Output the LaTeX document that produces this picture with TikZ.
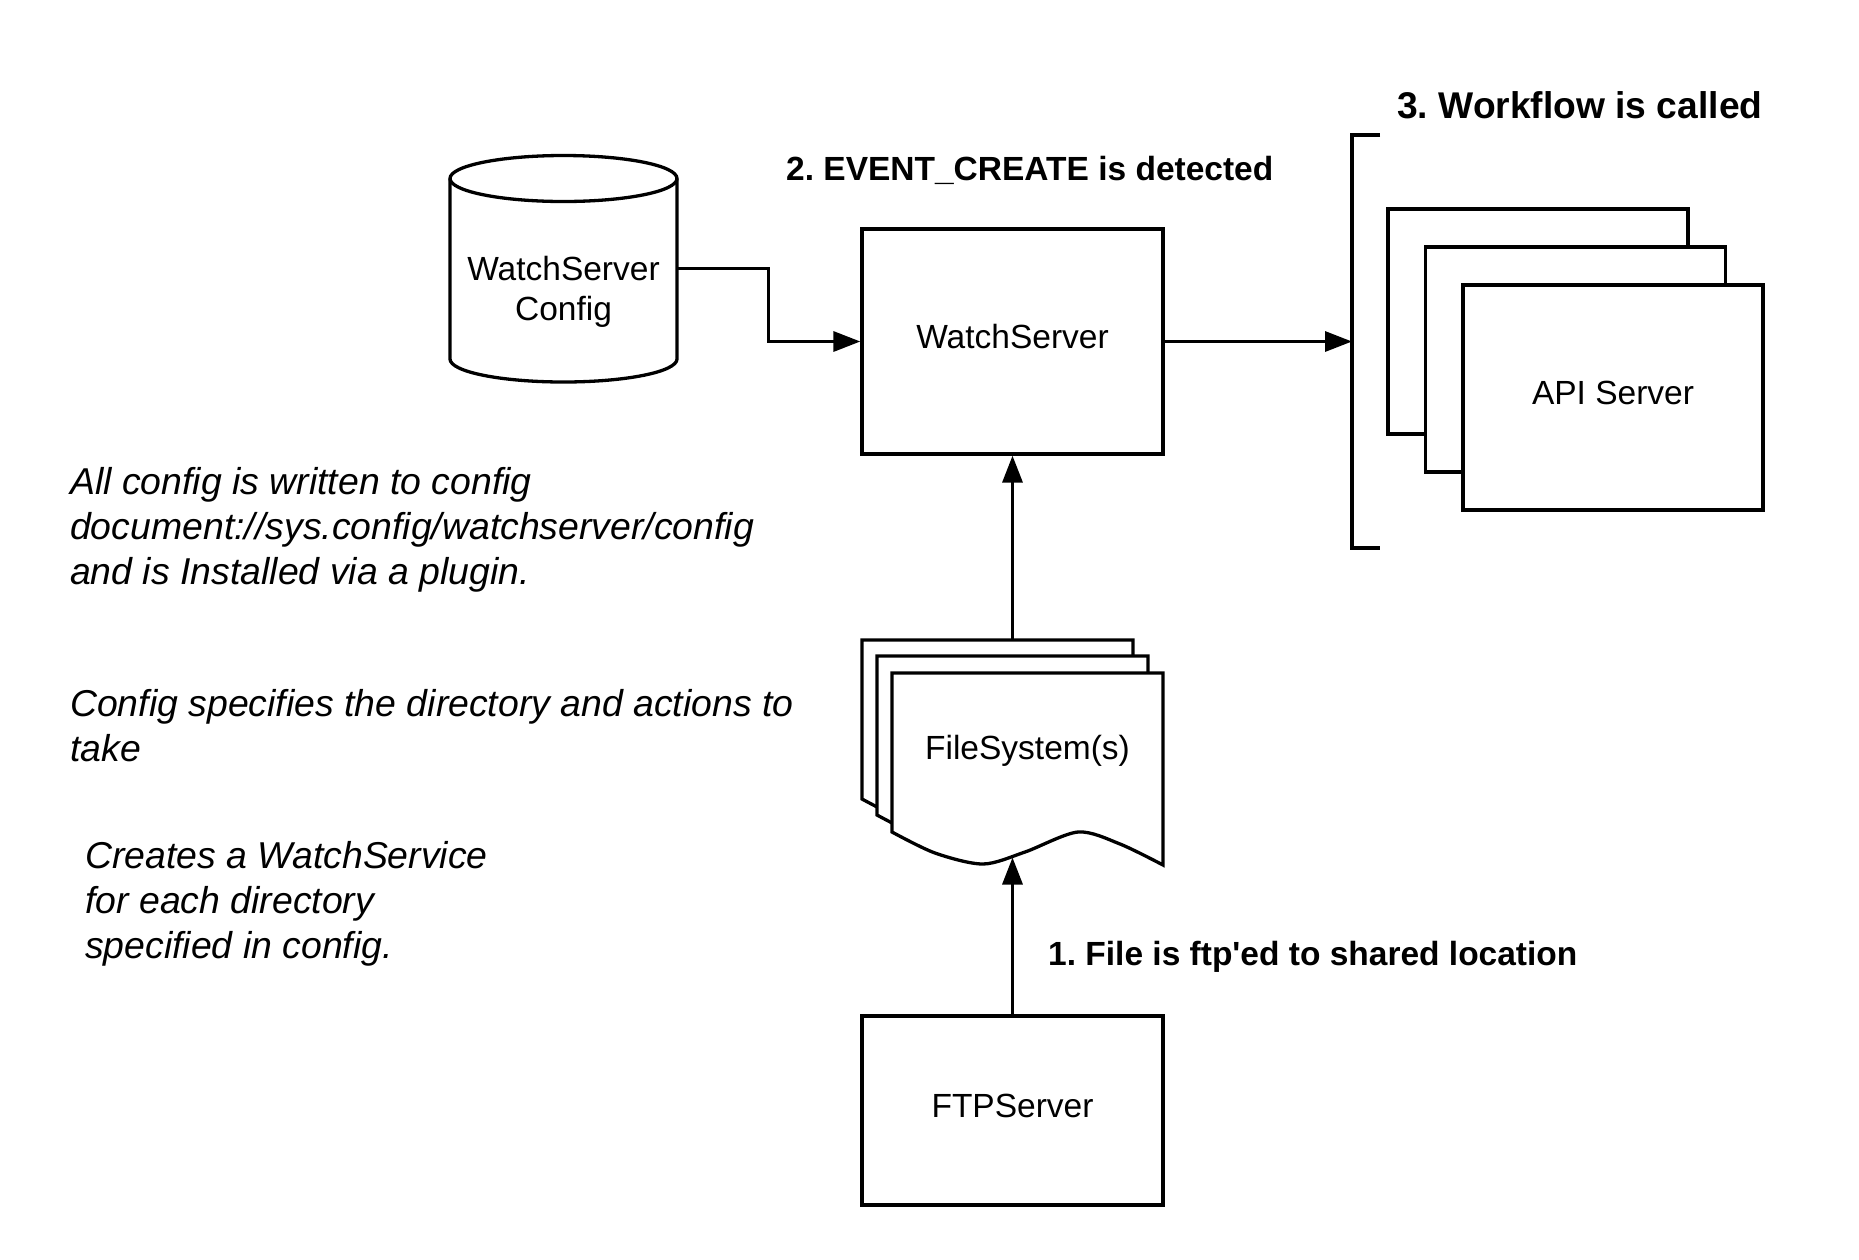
\documentclass[tikz,border=0pt]{standalone}
\usepackage{fontspec}
\setmainfont{Liberation Sans}
\usetikzlibrary{arrows.meta}
\frenchspacing
\begin{document}
\begin{tikzpicture}[x=1pt,y=-1pt,
  ln/.style={line width=3.3pt},
  box/.style={ln, draw, fill=white, minimum width=301pt, minimum height=225pt, inner sep=0pt,
    text height=24pt, text depth=10pt, font=\fontsize{33.5}{37}\selectfont},
  arr/.style={ln, -{Triangle[length=27pt,width=20pt]}},
  txt/.style={inner sep=0pt, anchor=base, font=\fontsize{33.5}{37}\selectfont},
  note/.style={inner sep=0pt, anchor=base west, font=\fontsize{37.4}{43}\selectfont\itshape},
  head/.style={inner sep=0pt, anchor=base west, font=\fontsize{33.5}{37}\selectfont\bfseries},
]
\fill[white] (0,0) rectangle (1859,1259);
\useasboundingbox (0,0) rectangle (1859,1259);

% cylinder
\draw[ln] (450,178.5) -- (450,359) arc[start angle=180,end angle=0,x radius=113.5,y radius=23] -- (677,178.5);
\draw[ln] (563.5,178.5) ellipse[x radius=113.5, y radius=23];
\node[minimum width=227pt, minimum height=227pt, inner sep=0pt] (cfg) at (563.5,268.5) {};
\node[txt] (cfgA) at (563.5,280) {WatchServer};
\node[txt] (cfgB) at (563.5,320.5) {Config};

% main boxes
\node[box] (ws) at (1012.5,341.5) {WatchServer};
\node[box, minimum height=189pt] (ftp) at (1012.5,1110.5) {FTPServer};

% API servers
\node[box, minimum width=300pt] (api1) at (1538,321.5) {};
\node[box, minimum width=300pt] (api2) at (1575.5,359.5) {};
\node[box, minimum width=300pt] (api3) at (1613,397.5) {API Server};

% bracket
\draw[ln] (1380,135) -- (1352,135) -- (1352,548) -- (1380,548);
\coordinate (brk) at (1352,341.5);

% documents
\foreach \dx/\dy in {-30/-33,-15/-17,0/0}{
  \draw[ln, fill=white, shift={(\dx,\dy)}] (892,673) -- (1163,673) -- plot[smooth] coordinates {(1163,865) (1120,844) (1078,832) (1025,852) (983,864) (935,853) (892,832)} -- cycle;
}
\node[txt] (fs) at (1027.5,759) {FileSystem(s)};
\coordinate (fstop) at (1012.5,640);
\coordinate (fsbot) at (1012.5,857.5);

% connectors
\draw[arr] (cfg.east) -- ++(91,0) |- (ws.west);
\draw[arr] (ws.east) -- (brk);
\draw[arr] (fstop) -- (ws.south);
\draw[arr] (ftp.north) -- (fsbot);

% headings
\node[head] (l2) at (786,180) {2. EVENT\_CREATE is detected};
\node[head, font=\fontsize{37.2}{42}\selectfont\bfseries] (l3) at (1397,118) {3. Workflow is called};
\node[head] (l1) at (1048,965) {1. File is ftp\textquotesingle ed to shared location};

% notes
\node[note] (n1a) at (70,494) {All config is written to config};
\node[note] (n1b) at (70,539) {document://sys.config/watchserver/config};
\node[note] (n1c) at (70,584) {and is Installed via a plugin.};
\node[note] (n2a) at (70,716) {Config specifies the directory and actions to};
\node[note] (n2b) at (70,761) {take};
\node[note] (n3a) at (85,868) {Creates a WatchService};
\node[note] (n3b) at (85,913) {for each directory};
\node[note] (n3c) at (85,958) {specified in config.};
\end{tikzpicture}
\end{document}
